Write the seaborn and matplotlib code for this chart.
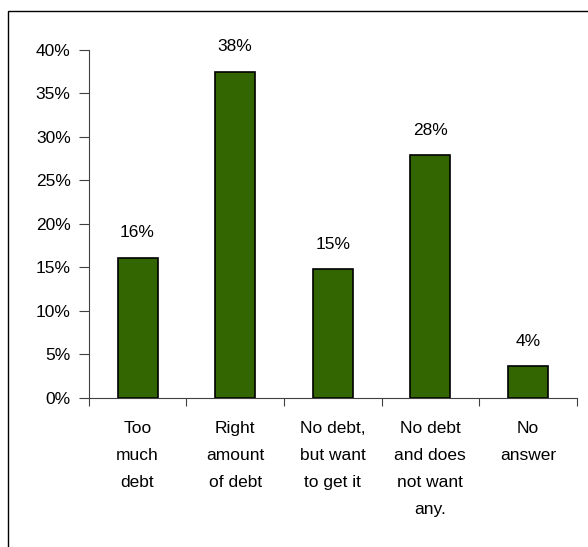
import matplotlib
matplotlib.use("Agg")
import matplotlib.pyplot as plt
from matplotlib.patches import Rectangle
from matplotlib.ticker import FixedLocator, PercentFormatter, NullFormatter
import seaborn as sns
import pandas as pd

categories = [
    "Too\nmuch\ndebt",
    "Right\namount\nof debt",
    "No debt,\nbut want\nto get it",
    "No debt\nand does\nnot want\nany.",
    "No\nanswer",
]
shares = [0.161, 0.375, 0.148, 0.279, 0.036]
y_ticks = [0.0, 0.05, 0.10, 0.15, 0.20, 0.25, 0.30, 0.35, 0.40]

df = pd.DataFrame({"answer": categories, "share": shares})

sns.set_theme(style="white")
plt.rcParams["font.family"] = ["Liberation Sans", "DejaVu Sans"]

FS = 12.5

fig = plt.figure(figsize=(5.88, 5.47), dpi=100)
ax = fig.add_axes([0.1509, 0.2729, 0.9808 - 0.1509, 0.9086 - 0.2729])

sns.barplot(data=df, x="answer", y="share", ax=ax, color="#336600",
            saturation=1, width=0.41, edgecolor="black", linewidth=1.2)

for patch, v in zip(ax.patches, shares):
    ax.annotate(f"{v * 100:.0f}%",
                (patch.get_x() + patch.get_width() / 2, patch.get_height()),
                xytext=(0, 12.5), textcoords="offset points",
                ha="center", va="bottom", fontsize=FS, color="black")

ax.set_xlim(-0.5, len(categories) - 0.5)
ax.set_ylim(0, 0.40)
ax.yaxis.set_major_locator(FixedLocator(y_ticks))
ax.yaxis.set_major_formatter(PercentFormatter(1.0, decimals=0))
ax.set_xlabel("")
ax.set_ylabel("")

# category labels centred under bars, tick marks at category boundaries
ax.xaxis.set_minor_locator(FixedLocator([i - 0.5 for i in range(len(categories) + 1)]))
ax.xaxis.set_minor_formatter(NullFormatter())
ax.tick_params(axis="x", which="major", length=0, pad=16.5, labelsize=FS,
               colors="black")
ax.tick_params(axis="x", which="minor", bottom=True, length=6, width=0.8,
               color="#404040")
ax.tick_params(axis="y", which="major", left=True, length=7, width=0.8,
               color="#404040", labelsize=FS, labelcolor="black", pad=6)
for lbl in ax.get_xticklabels():
    lbl.set_linespacing(2.0)
    lbl.set_va("top")

sns.despine(ax=ax, top=True, right=True)
for side in ("left", "bottom"):
    ax.spines[side].set_color("#404040")
    ax.spines[side].set_linewidth(0.8)

# chart frame (left and top edges)
fig.add_artist(Rectangle((7.5 / 588, -0.2), 1.5, 1.2 - 10.5 / 547,
                         transform=fig.transFigure, fill=False,
                         edgecolor="black", linewidth=1.0))

fig.savefig("out.png", dpi=100)
